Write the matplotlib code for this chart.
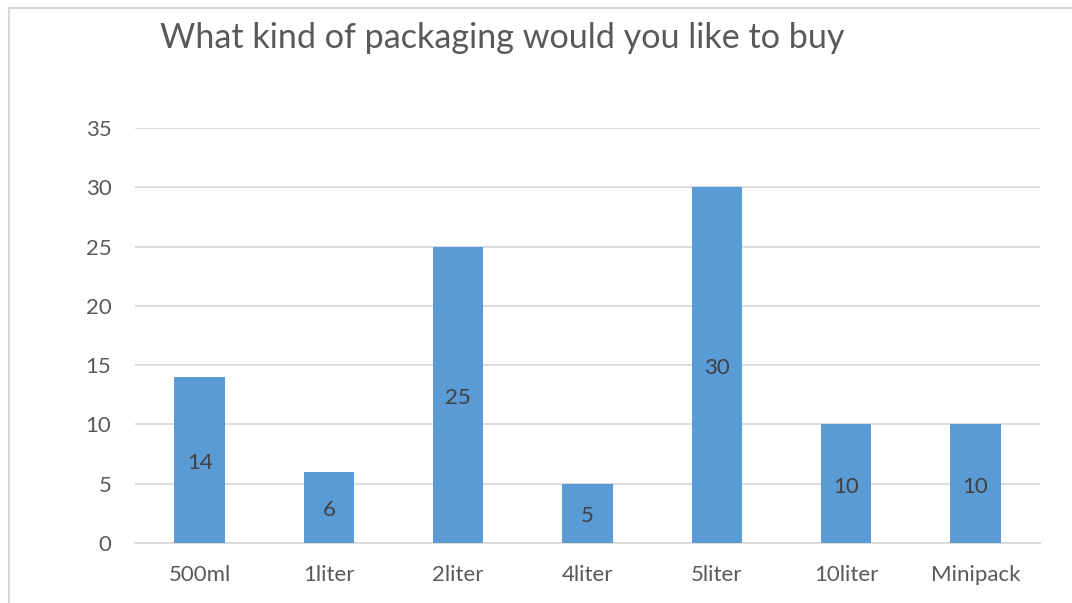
import matplotlib
matplotlib.use("Agg")
import matplotlib.pyplot as plt
from matplotlib.lines import Line2D

categories = ["500ml", "1liter", "2liter", "4liter", "5liter", "10liter", "Minipack"]
values = [14, 6, 25, 5, 30, 10, 10]
title = "What kind of packaging would you like to buy"

plt.rcParams['font.family'] = ['Lato', 'DejaVu Sans']

fig = plt.figure(figsize=(10.72, 6.03), dpi=100)
ax = fig.add_axes([135 / 1072, 1 - 543 / 603, 905 / 1072, 415 / 603])

# chart frame (only left and top edges visible in the crop)
fig.add_artist(Line2D([9 / 1072, 9 / 1072], [0, 1 - 8 / 603], color="#d9d9d9", lw=1.5))
fig.add_artist(Line2D([9 / 1072, 1], [1 - 8 / 603, 1 - 8 / 603], color="#d9d9d9", lw=1.5))

x = range(len(categories))
bars = ax.bar(x, values, width=0.39, color="#5b9bd5", zorder=3)
for b, v in zip(bars, values):
    ax.text(b.get_x() + b.get_width() / 2, v / 2 - 0.25, str(v), ha="center", va="center",
            fontsize=16, color="#404040", zorder=4)

ax.set_xlim(-0.5, len(categories) - 0.5)
ax.set_ylim(0, 35)
ax.set_yticks(range(0, 36, 5))
ax.set_xticks(list(x))
ax.set_xticklabels(categories)
ax.yaxis.grid(True, color="#d9d9d9", lw=1.3, zorder=0)
for s in ["top", "right", "left"]:
    ax.spines[s].set_visible(False)
ax.spines["bottom"].set_color("#d9d9d9")
ax.spines["bottom"].set_linewidth(1.3)
ax.tick_params(axis="both", length=0, labelsize=16, labelcolor="#595959")
ax.tick_params(axis="y", pad=17)
ax.tick_params(axis="x", pad=16)

fig.text(160 / 1072, 1 - 38 / 603, title, fontsize=24.6, color="#595959", ha="left", va="center")

fig.savefig("out.png", dpi=100)
